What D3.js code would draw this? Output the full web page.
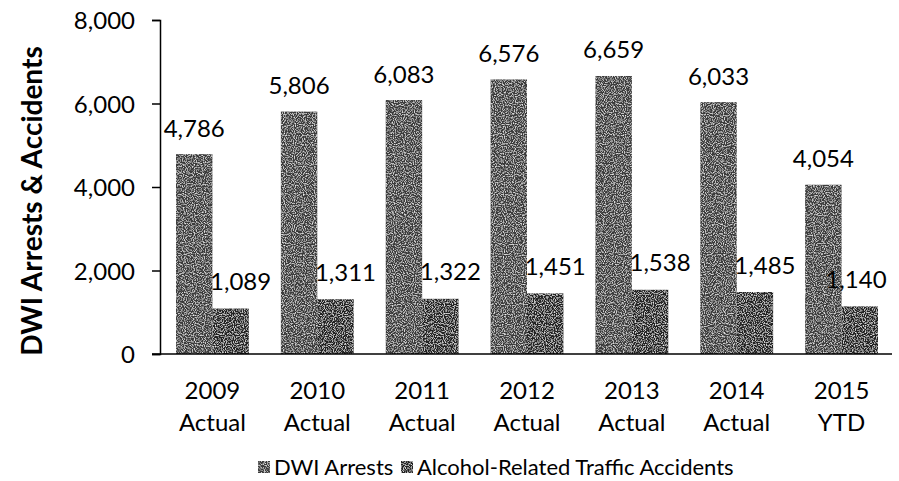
<!DOCTYPE html>
<html><head><meta charset="utf-8">
<script src="https://cdn.jsdelivr.net/npm/d3@7"></script>
<style>body{margin:0;background:#fff}svg{display:block}text{font-family:Lato,"Open Sans",sans-serif;fill:#000}</style>
</head><body><svg id="c" width="899" height="481"></svg>
<script>
const categories = [["2009","Actual"],["2010","Actual"],["2011","Actual"],["2012","Actual"],["2013","Actual"],["2014","Actual"],["2015","YTD"]];
const dwiArrests = [4786,5806,6083,6576,6659,6033,4054];
const accidents = [1089,1311,1322,1451,1538,1485,1140];
const seriesNames = ["DWI Arrests","Alcohol-Related Traffic Accidents"];
const yTicks = [0,2000,4000,6000,8000];

const svg = d3.select("#c");
const x0 = d3.scaleBand().domain(d3.range(categories.length)).range([160,894]).paddingInner(0).paddingOuter(0);
const x1 = d3.scaleBand().domain([0,1]).range([0,x0.bandwidth()]).paddingOuter(0.44).paddingInner(0);
const y = d3.scaleLinear().domain([0,8000]).range([354,20]);
const colors = ["#3b3b3b","#242424"];
const fmt = d3.format(",");

const defs = svg.append("defs");
const f = defs.append("filter").attr("id","grain").attr("x",0).attr("y",0).attr("width",1).attr("height",1);
f.append("feTurbulence").attr("type","fractalNoise").attr("baseFrequency",0.9).attr("numOctaves",1).attr("seed",3).attr("result","n");
f.append("feColorMatrix").attr("in","n").attr("type","matrix").attr("values","0 0 0 0 1  0 0 0 0 1  0 0 0 0 1  0 0 0 -2.4 1.3").attr("result","a");
f.append("feComposite").attr("in","a").attr("in2","SourceGraphic").attr("operator","in").attr("result","m");
f.append("feMerge").call(m=>{m.append("feMergeNode").attr("in","SourceGraphic");m.append("feMergeNode").attr("in","m");});

const series = [dwiArrests, accidents];
series.forEach((vals,si)=>{
  svg.append("g").selectAll("rect").data(vals).join("rect")
    .attr("x",(d,i)=>x0(i)+x1(si)).attr("width",x1.bandwidth())
    .attr("y",d=>y(d)).attr("height",d=>y(0)-y(d))
    .attr("fill",colors[si]).attr("filter","url(#grain)");
  svg.append("g").selectAll("text").data(vals).join("text")
    .attr("x",(d,i)=>{
      const cx = x0(i)+x1(si)+x1.bandwidth()/2 + (si===0?0:10);
      return Math.min(cx, 856);
    })
    .attr("y",d=>y(d)-(si===0?17.5:18.5))
    .attr("text-anchor","middle").attr("font-size",24).text(d=>fmt(d));
});

const ya = svg.append("g").attr("transform","translate(160,0)")
  .call(d3.axisLeft(y).tickValues(yTicks).tickFormat(fmt).tickSize(8).tickPadding(17));
ya.select(".domain").attr("stroke","#000").attr("stroke-width",1.5);
ya.selectAll(".tick line").attr("stroke","#000").attr("stroke-width",1.5);
ya.selectAll(".tick text").attr("font-size",24).attr("font-family","Lato,sans-serif").attr("dy","0.36em");

svg.append("line").attr("x1",152).attr("x2",892).attr("y1",y(0)).attr("y2",y(0)).attr("stroke","#000").attr("stroke-width",1.5);

const xl = svg.append("g").selectAll("text").data(categories).join("text")
  .attr("x",(d,i)=>x0(i)+x0.bandwidth()/2).attr("y",399).attr("text-anchor","middle").attr("font-size",24);
xl.append("tspan").text(d=>d[0]);
xl.append("tspan").attr("x",(d,i)=>x0(i)+x0.bandwidth()/2).attr("dy",32).text(d=>d[1]);

svg.append("text").attr("transform","translate(42,201) rotate(-90)").attr("text-anchor","middle")
  .attr("font-size",28).attr("font-weight","bold").text("DWI Arrests & Accidents");

const leg = [{x:258,name:seriesNames[0]},{x:401,name:seriesNames[1]}];
leg.forEach((l,i)=>{
  svg.append("rect").attr("x",l.x).attr("y",461).attr("width",12).attr("height",12).attr("fill",colors[i]).attr("filter","url(#grain)");
  svg.append("text").attr("x",l.x+16).attr("y",475).attr("font-size",22).text(l.name);
});
</script></body></html>
